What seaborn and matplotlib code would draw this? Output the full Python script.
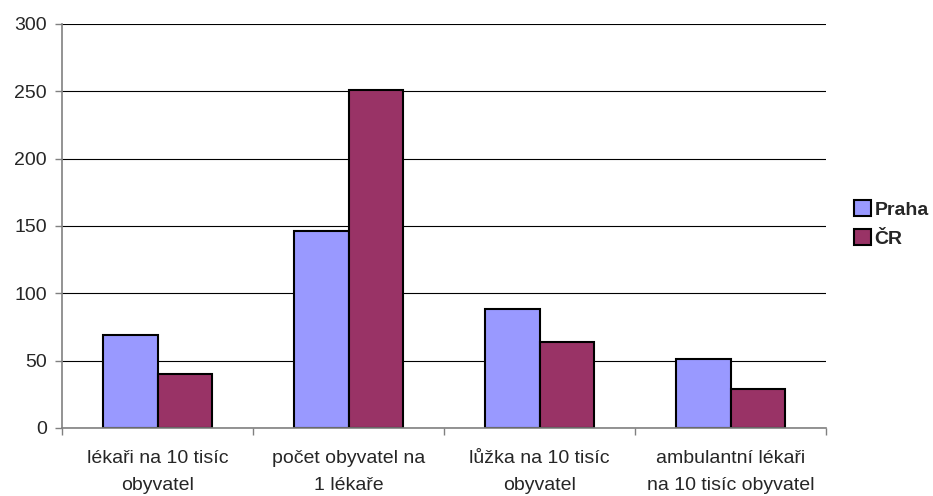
import matplotlib
matplotlib.use("Agg")
import matplotlib.pyplot as plt
import seaborn as sns
import pandas as pd

# data
categories = ["lékaři na 10 tisíc\nobyvatel", "počet obyvatel na\n1 lékaře",
              "lůžka na 10 tisíc\nobyvatel", "ambulantní lékaři\nna 10 tisíc obyvatel"]
praha = [69, 146, 88, 51]
cr = [40, 251, 64, 29]
series = ["Praha", "ČR"]
colors = ["#9999FF", "#993366"]

df = pd.DataFrame({
    "kategorie": categories * 2,
    "hodnota": praha + cr,
    "oblast": [series[0]] * 4 + [series[1]] * 4,
})

sns.set_style("white")
plt.rcParams["font.family"] = ["Liberation Sans", "DejaVu Sans"]

fig = plt.figure(figsize=(9.33, 4.96), dpi=100)
ax = fig.add_axes([62 / 933, 68 / 496, 764 / 933, 404 / 496])

sns.barplot(data=df, x="kategorie", y="hodnota", hue="oblast", palette=colors,
            saturation=1, width=0.573, edgecolor="black", linewidth=1.5,
            ax=ax, legend=True)

ax.set_ylim(0, 300)
ax.set_xlim(-0.5, 3.5)
ax.set_yticks(range(0, 301, 50))
ax.yaxis.grid(True, color="black", linewidth=0.8)
ax.set_axisbelow(True)
ax.set_xlabel("")
ax.set_ylabel("")

for s in ["top", "right"]:
    ax.spines[s].set_visible(False)
ax.spines["left"].set_color("#808080")
ax.spines["bottom"].set_color("#808080")
ax.spines["left"].set_linewidth(1.2)
ax.spines["bottom"].set_linewidth(1.2)

ax.tick_params(axis="y", direction="out", length=5, width=1, color="#808080",
               labelsize=14, left=True, pad=6)
ax.tick_params(axis="x", which="major", length=0, labelsize=14, pad=16)
ax.set_xticks([-0.5, 0.5, 1.5, 2.5, 3.5], minor=True)
ax.tick_params(axis="x", which="minor", direction="out", length=5, width=1,
               color="#808080", bottom=True)
for lbl in ax.get_xticklabels():
    lbl.set_linespacing(1.75)

handles, labels = ax.get_legend_handles_labels()
ax.get_legend().remove()
fig.legend(handles, labels, loc="center left",
           bbox_to_anchor=(854 / 933, 1 - 224 / 496), frameon=False,
           borderpad=0, borderaxespad=0,
           prop={"weight": "bold", "size": 14}, handlelength=0.85,
           handleheight=0.85, handletextpad=0.2, labelspacing=0.55)

fig.savefig("out.png", dpi=100)
